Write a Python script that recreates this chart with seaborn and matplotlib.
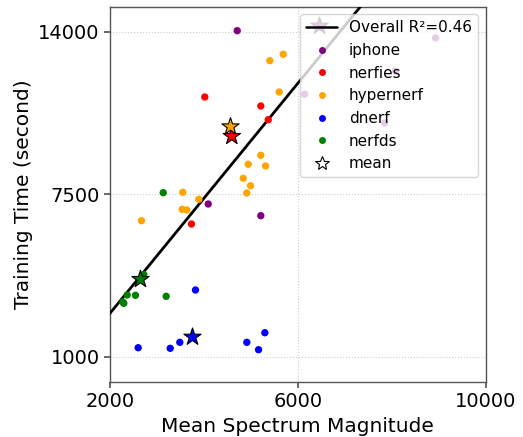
import numpy as np
import pandas as pd
import matplotlib
matplotlib.use("Agg")
import matplotlib.pyplot as plt
import seaborn as sns
from matplotlib.lines import Line2D

# ---- data ----
iphone_x = [4708, 4091, 5210, 8930, 8078, 6141, 7844]
iphone_y = [14040, 7108, 6640, 13748, 12428, 11496, 10348]

nerfies_x = [4018, 5210, 5368, 3735]
nerfies_y = [11388, 11028, 10480, 6308]

hypernerf_x = [5402, 5687, 5602, 5210, 4942, 5311, 4836, 4991, 4912, 3550, 3891, 3537, 3635, 2671]
hypernerf_y = [12840, 13096, 11588, 9056, 8696, 8628, 8136, 7840, 7548, 7576, 7296, 6896, 6868, 6440]

dnerf_x = [3820, 2600, 3282, 3486, 4912, 5296, 5162]
dnerf_y = [3668, 1360, 1336, 1576, 1576, 1960, 1280]

nerfds_x = [3133, 2720, 2692, 2366, 2543, 2273, 2294, 3196]
nerfds_y = [7560, 4280, 4188, 3468, 3456, 3188, 3136, 3416]

datasets = ["iphone", "nerfies", "hypernerf", "dnerf", "nerfds"]
colors = ["purple", "red", "orange", "blue", "green"]

mean_x = [6460, 4593, 4565, 3756, 2649]
mean_y = [14228, 9816, 10200, 1788, 4096]

fit_slope = 2.301
fit_intercept = 2737 - 2.301 * 2000
r2_label = "Overall R\u00b2=0.46"

xticks = [2000, 6000, 10000]
yticks = [1000, 7500, 14000]

# ---- build frame ----
xs = [iphone_x, nerfies_x, hypernerf_x, dnerf_x, nerfds_x]
ys = [iphone_y, nerfies_y, hypernerf_y, dnerf_y, nerfds_y]
rows = []
for name, xv, yv in zip(datasets, xs, ys):
    for a, b in zip(xv, yv):
        rows.append((name, a, b))
df = pd.DataFrame(rows, columns=["dataset", "x", "y"])
means = pd.DataFrame({"dataset": datasets, "x": mean_x, "y": mean_y})

sns.set_theme(style="white")
plt.rcParams['font.family'] = ['DejaVu Sans']
plt.rcParams['text.color'] = 'black'
plt.rcParams['axes.labelcolor'] = 'black'
plt.rcParams['xtick.color'] = 'black'
plt.rcParams['ytick.color'] = 'black'

fig = plt.figure(figsize=(5.23, 4.37), dpi=100)
ax = fig.add_axes([0.2103, 0.1265, 0.7187, 0.8582])

palette = dict(zip(datasets, colors))

xl = np.array([2000, 10000])
ax.plot(xl, fit_intercept + fit_slope * xl, color="black", lw=2, zorder=3)

sns.scatterplot(data=df, x="x", y="y", hue="dataset", palette=palette,
                s=28, edgecolor="none", ax=ax, legend=False, zorder=4)
sns.scatterplot(data=means, x="x", y="y", hue="dataset", palette=palette,
                marker="*", s=170, edgecolor="black", linewidth=0.8,
                ax=ax, legend=False, zorder=5)

ax.set_xlim(2000, 10000)
ax.set_ylim(0, 15000)
ax.set_xticks(xticks)
ax.set_yticks(yticks)
ax.tick_params(axis="both", labelsize=14, length=4, color="#555555", labelcolor="black",
               bottom=True, left=True)
ax.grid(True, linestyle=":", color="#cccccc", lw=0.8)
for sp in ax.spines.values():
    sp.set_color("#555555")
    sp.set_linewidth(1.0)
ax.set_xlabel("Mean Spectrum Magnitude", fontsize=14.5, color="black")
ax.set_ylabel("Training Time (second)", fontsize=14.5, color="black")

handles = [Line2D([0], [0], color="black", lw=1.8, label=r2_label)]
for name, c in zip(datasets, colors):
    handles.append(Line2D([0], [0], marker="o", color="none", markerfacecolor=c,
                          markeredgecolor="none", markersize=5, label=name))
handles.append(Line2D([0], [0], marker="*", color="none", markerfacecolor="white",
                      markeredgecolor="black", markersize=10, markeredgewidth=0.8, label="mean"))
leg = ax.legend(handles=handles, loc="upper right", fontsize=11, frameon=True,
                framealpha=0.8, edgecolor="#cccccc", borderaxespad=0.5,
                handlelength=2.0, labelspacing=0.5)
for t in leg.get_texts():
    t.set_color("black")
leg.set_zorder(10)

fig.savefig("out.png", dpi=100)
